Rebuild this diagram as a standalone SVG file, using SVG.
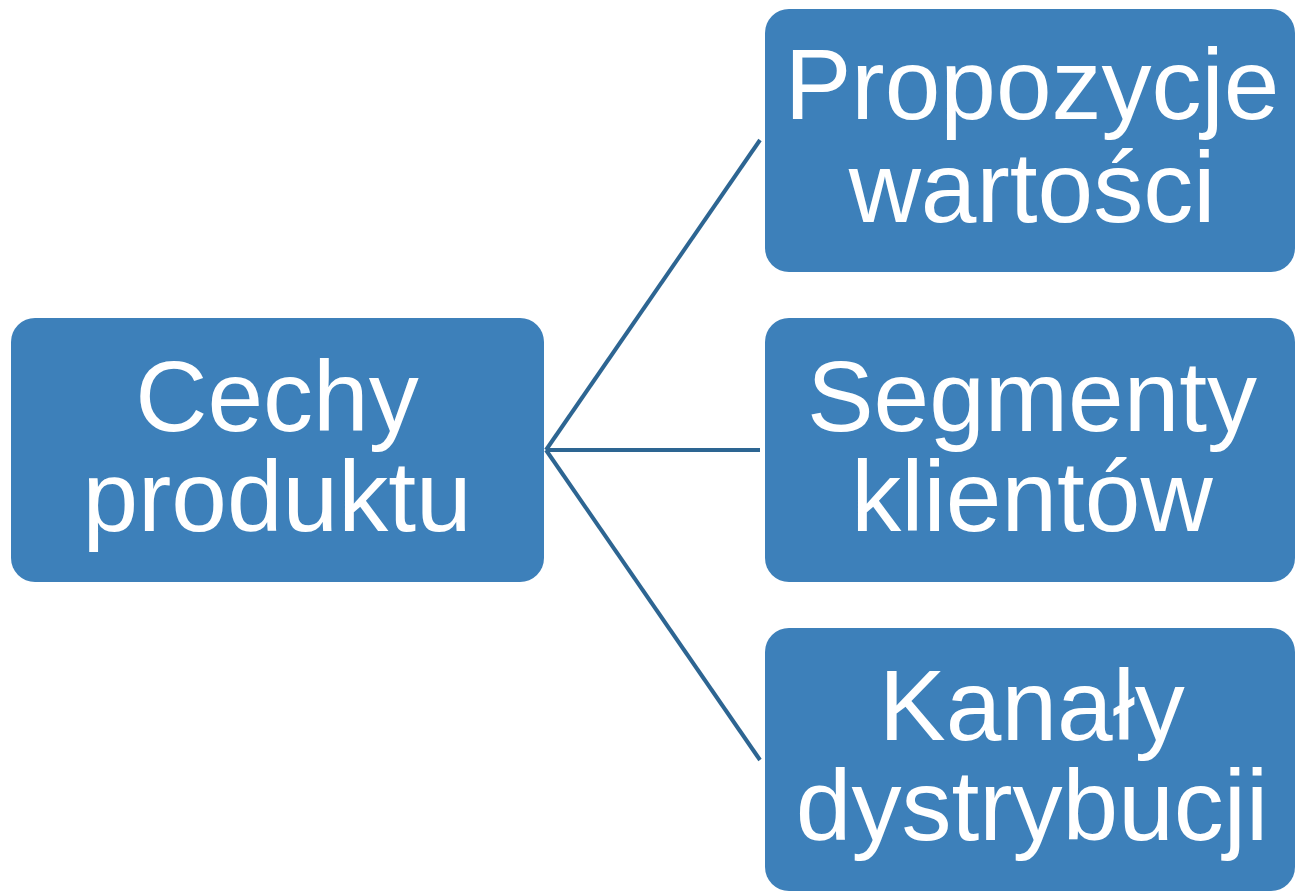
<svg xmlns="http://www.w3.org/2000/svg" width="1295" height="891" viewBox="0 0 1295 891">
<style>
.box{fill:#3D80BA}
.t{font-family:"Liberation Sans",Arial,sans-serif;font-size:100px;fill:#fff;text-anchor:middle}
.c{stroke:#2D6592;stroke-width:4;fill:none}
</style>
<rect width="1295" height="891" fill="#fff"/>
<g id="connectors">
<line class="c" x1="546" y1="450" x2="760" y2="140"/>
<line class="c" x1="546" y1="450" x2="760" y2="450"/>
<line class="c" x1="546" y1="450" x2="760" y2="760"/>
</g>
<g id="cechy">
<rect class="box" x="11" y="318" width="533" height="264" rx="24"/>
<text class="t" x="277" y="431">Cechy</text>
<text class="t" x="277" y="531">produktu</text>
</g>
<g id="propozycje">
<rect class="box" x="765" y="9" width="530" height="263" rx="24"/>
<text class="t" x="1032" y="119">Propozycje</text>
<text class="t" x="1032" y="222">wartości</text>
</g>
<g id="segmenty">
<rect class="box" x="765" y="318" width="530" height="264" rx="24"/>
<text class="t" x="1032" y="431">Segmenty</text>
<text class="t" x="1032" y="531">klientów</text>
</g>
<g id="kanaly">
<rect class="box" x="765" y="628" width="530" height="263" rx="24"/>
<text class="t" x="1032" y="740">Kanały</text>
<text class="t" x="1032" y="840">dystrybucji</text>
</g>
</svg>
